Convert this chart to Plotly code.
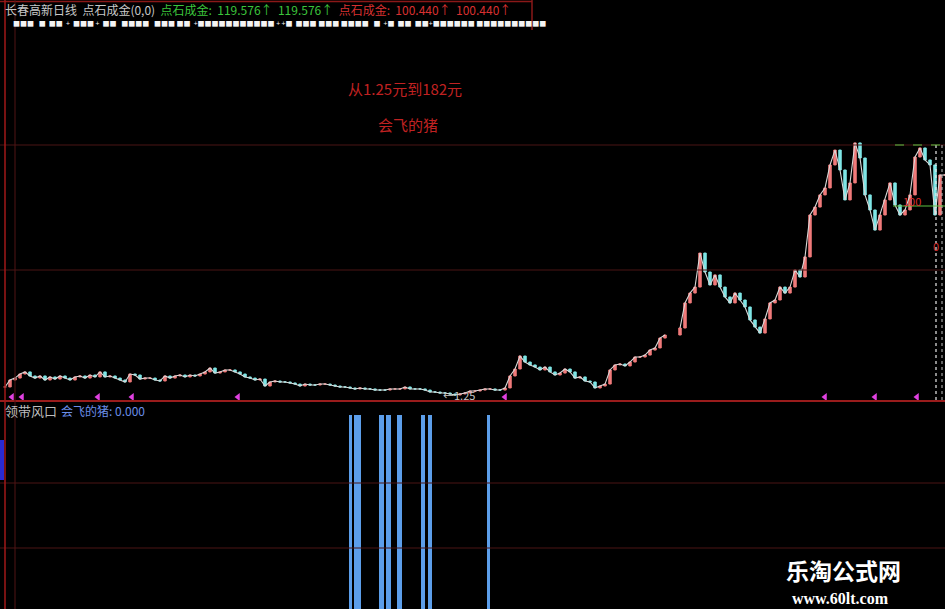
import plotly.graph_objects as go

W, H = 945, 609

# daily closes (sampled), price in yuan
closes = [
    7.0, 12.0, 13.4, 16.3, 17.8, 14.9, 13.4, 14.9, 12.0, 14.2,
    12.7, 14.9, 13.4, 12.0, 14.2, 14.9, 13.4, 15.6, 14.2, 17.8,
    14.2, 14.9, 13.4, 12.0, 10.6, 16.3, 15.6, 12.7, 13.4, 13.4,
    12.0, 11.3, 14.9, 13.4, 14.9, 15.6, 14.2, 15.6, 14.9, 16.3,
    17.8, 20.6, 17.0, 17.8, 19.2, 19.2, 17.8, 16.3, 14.2, 13.4,
    12.0, 12.7, 7.7, 10.6, 11.3, 10.6, 10.6, 9.9, 9.1, 7.7,
    9.1, 8.4, 8.4, 9.1, 9.1, 8.4, 7.7, 7.0, 7.0, 6.3,
    5.6, 6.3, 5.6, 5.6, 4.8, 4.8, 4.8, 5.6, 5.6, 5.6,
    7.0, 5.6, 5.6, 5.6, 4.8, 3.4, 3.4, 2.7, 2.7, 2.0,
    1.25, 2.0, 2.7, 4.1, 4.1, 4.8, 5.6, 5.6, 4.8, 4.8,
    6.3, 14.9, 19.9, 29.2, 24.9, 22.8, 21.3, 19.2, 21.3, 17.8,
    15.6, 17.0, 19.9, 17.8, 13.4, 14.2, 11.3, 10.6, 6.3, 7.7,
    9.1, 19.2, 22.8, 23.5, 22.1, 24.9, 28.5, 28.5, 29.9, 33.5,
    35.0, 42.1, 44.3, None, None, 49.3, 67.3, 74.4, 78.7, 103.1,
    89.5, 80.2, 87.4, 78.7, 71.6, 67.3, 74.4, 69.4, 64.4, 55.1,
    50.0, 45.7, 55.8, 67.3, 69.4, 78.7, 74.4, 78.7, 90.9, 85.9,
    100.3, 130.4, 136.1, 144.8, 149.8, 166.3, 177.0, 162.7, 141.2, 153.4,
    182.1, 171.3, 144.8, 134.0, 119.6, 130.4, 141.2, 153.4, 137.6, 130.4,
    134.0, 144.8, 172.0, 178.5, 169.9, 166.3, 130.4, 159.1, 159.1,
]

# "会飞的猪" signal days (lower panel)
signal_days = [69.1, 70.5, 75.3, 76.7, 78.9, 83.6, 85.0, 96.7]
signal_values = [1, 1, 1, 1, 1, 1, 1, 1]
signal_widths = [0.5, 1.3, 1.0, 1.0, 1.0, 0.8, 0.8, 0.55]

# magenta arrow markers on the price panel
marker_days = [1.4, 3.4, 18.6, 25.4, 46.6, 100, 164, 174, 182.4]

days = list(range(len(closes)))
opens, highs, lows = [], [], []
prev = closes[0]
for c in closes:
    if c is None:
        opens.append(None); highs.append(None); lows.append(None)
        continue
    opens.append(prev)
    highs.append(max(prev, c))
    lows.append(min(prev, c))
    prev = c

fig = go.Figure()

fig.add_trace(go.Scatter(
    x=days, y=closes, mode="lines", line=dict(color="#d8d8d8", width=1.1),
    connectgaps=False, hoverinfo="skip", showlegend=False,
))
fig.add_trace(go.Candlestick(
    x=days, open=opens, high=highs, low=lows, close=closes,
    increasing=dict(line=dict(color="#f07a7a", width=1), fillcolor="#f07a7a"),
    decreasing=dict(line=dict(color="#7fe6e6", width=1), fillcolor="#7fe6e6"),
    whiskerwidth=0, showlegend=False,
))
fig.add_trace(go.Scatter(
    x=marker_days, y=[-0.2] * len(marker_days), mode="markers",
    marker=dict(symbol="triangle-left", color="#e040e0", size=7),
    showlegend=False, hoverinfo="skip",
))
fig.add_trace(go.Bar(
    x=signal_days, y=signal_values, width=signal_widths,
    marker=dict(color="#5c9eea", line=dict(width=0)),
    xaxis="x2", yaxis="y2", showlegend=False,
))

n = len(closes)
xr = [-1, n - 1]
ax_common = dict(visible=False, showgrid=False, zeroline=False)

def py(p):
    return 1 - p / H

def px(p):
    return p / W

shapes = []
def hline(y, x0, x1, color, width=1, dash="solid"):
    shapes.append(dict(type="line", xref="paper", yref="paper",
                       x0=px(x0), x1=px(x1), y0=py(y), y1=py(y),
                       line=dict(color=color, width=width, dash=dash)))

def vline(x, y0, y1, color, width=1, dash="solid"):
    shapes.append(dict(type="line", xref="paper", yref="paper",
                       x0=px(x), x1=px(x), y0=py(y0), y1=py(y1),
                       line=dict(color=color, width=width, dash=dash)))

grid = "#4a1414"
hline(145, 0, W, grid)
hline(270, 0, W, grid)
hline(483, 0, W, grid)
hline(548, 0, W, grid)
hline(401, 0, W, "#9a1c1c", 2)
hline(1.5, 0, 532, "#8a1818", 1.5)
vline(532, 0, 30, "#8a1818", 1.5)
vline(5, 0, H, "#a01818", 1.5)
vline(15, 0, H, "#501414", 1)
shapes.append(dict(type="rect", xref="paper", yref="paper",
                   x0=0, x1=px(4), y0=py(480), y1=py(440),
                   fillcolor="#2a2ad0", line=dict(width=0)))
# right-side dotted markers and green levels
vline(936, 145, 400, "#e8e8e8", 1.2, "dot")
vline(942, 145, 400, "#bfbfbf", 1, "dot")
hline(145, 895, W, "#5cc040", 1.2, "dash")
hline(206, 893, W, "#5cc040", 1.2, "solid")

fig.update_layout(
    width=W, height=H,
    margin=dict(l=0, r=0, t=0, b=0),
    paper_bgcolor="black", plot_bgcolor="black",
    xaxis=dict(range=xr, domain=[0, 1], rangeslider=dict(visible=False), **ax_common),
    yaxis=dict(range=[-2.34, 284.66], domain=[1 - 400 / H, 1], **ax_common),
    xaxis2=dict(range=xr, domain=[0, 1], anchor="y2", **ax_common),
    yaxis2=dict(range=[0, 1.062], domain=[0, 1 - 403 / H], anchor="x2", **ax_common),
    bargap=0,
    shapes=shapes,
    font=dict(family="Noto Sans CJK SC, Noto Sans, sans-serif"),
)

ann = []
def text(x, y, t, color, size, xanchor="left", family=None, bold=False):
    f = dict(color=color, size=size)
    if family:
        f["family"] = family
    if bold:
        t = "<b>" + t + "</b>"
    ann.append(dict(xref="paper", yref="paper", x=px(x), y=py(y), text=t,
                    showarrow=False, xanchor=xanchor, yanchor="middle", font=f,
                    borderpad=0))

header = ('<span style="color:#c8c8c8">长春高新日线  点石成金(0,0)</span>  '
          '<span style="color:#3cc43c">点石成金:  119.576↑  119.576↑</span>  '
          '<span style="color:#d83030">点石成金:  100.440↑  100.440↑</span>')
text(4, 10, header, "#c8c8c8", 12)
text(12, 23, "■■■   ■  ■■  +  ■■■ +  ■■   ■■■■   ■■■ ■■  +■■■■■■■■■■■ + +■  ■■■ ■■■ ■■■■   ■  +■  ■■  ■■+■■■■■■ ■■■■■■■■■■",
     "#f4f4f4", 7)
text(405, 88, "从1.25元到182元", "#c02222", 15, "center")
text(408, 125, "会飞的猪", "#c02222", 15, "center")
text(4, 410, "领带风口", "#bdbdbd", 13)
text(60, 410, "会飞的猪: 0.000", "#6a8ee8", 12)
text(912, 201, "100", "#d83030", 11, "center")
text(936, 246, "0", "#d83030", 11, "center")
text(843, 570, "乐淘公式网", "#ffffff", 23, "center", bold=True)
text(840, 598, "www.60lt.com", "#ffffff", 16, "center", family="Liberation Serif", bold=True)

# low-price label
lo_i = min((c, i) for i, c in enumerate(closes) if c is not None)[1]
ann.append(dict(x=lo_i, y=closes[lo_i], xref="x", yref="y", text="←1.25",
                showarrow=False, xanchor="left", xshift=-14, yanchor="middle",
                font=dict(color="#c8c8c8", size=11)))

fig.update_layout(annotations=ann)
fig.write_html("out.html", config={"displayModeBar": False},
               post_script="document.body.style.margin='0';document.body.style.overflow='hidden';")
